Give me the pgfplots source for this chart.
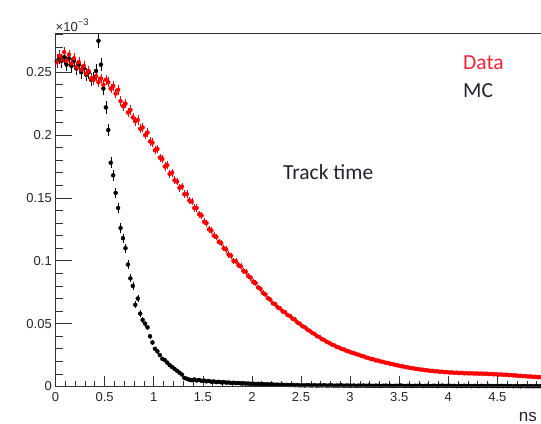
\documentclass[border=0pt]{standalone}
\usepackage{fontspec}
\setmainfont{Carlito}
\newfontfamily\helv{Liberation Sans}
\usepackage{pgfplots}
\pgfplotsset{compat=1.18}
\definecolor{datared}{RGB}{245,35,50}
\definecolor{txtdark}{RGB}{35,35,45}
\begin{document}
\begin{tikzpicture}
\begin{axis}[
  scale only axis, width=485.5bp, height=353.5bp,
  xmin=0, xmax=4.944, ymin=0, ymax=0.2812,
  axis line style={draw=none},
  tick align=inside, xtick pos=left,
  xtick={0,0.5,1,1.5,2,2.5,3,3.5,4,4.5},
  minor xtick={0,0.1,...,4.95},
  ytick=\empty,
  major tick length=10bp, minor tick length=5bp,
  tick style={black!80, line width=0.6pt},
  /pgf/number format/assume math mode=true,
  xticklabel style={font=\helv\fontsize{13bp}{15bp}\selectfont, text=black!85, anchor=north, inner sep=0pt, yshift=-6bp},
  clip=true,
]
% MC (black)
\addplot[black, only marks, mark=none,
  error bars/.cd, x dir=both, x fixed=0.0125, y dir=both, y explicit,
  error bar style={draw=black, line width=0.4pt}, error mark=none]
table[x=x, y=y, y error=e] {
x y e
0.0125 0.259 0.0054
0.0375 0.262 0.0054
0.0625 0.259 0.0054
0.0875 0.262 0.0054
0.1125 0.256 0.0053
0.1375 0.261 0.0054
0.1625 0.255 0.0053
0.1875 0.259 0.0053
0.2125 0.253 0.0053
0.2375 0.256 0.0053
0.2625 0.250 0.0053
0.2875 0.253 0.0053
0.3125 0.248 0.0052
0.3375 0.250 0.0053
0.3625 0.244 0.0052
0.3875 0.245 0.0052
0.4125 0.251 0.0053
0.4375 0.275 0.0055
0.4625 0.256 0.0053
0.4875 0.237 0.0051
0.5125 0.222 0.0049
0.5375 0.204 0.0047
0.5625 0.178 0.0044
0.5875 0.168 0.0043
0.6125 0.154 0.0041
0.6375 0.142 0.0040
0.6625 0.126 0.0037
0.6875 0.118 0.0036
0.7125 0.110 0.0035
0.7375 0.097 0.0033
0.7625 0.086 0.0031
0.7875 0.080 0.0030
0.8125 0.065 0.0027
0.8375 0.070 0.0028
0.8625 0.058 0.0025
0.8875 0.053 0.0024
0.9125 0.050 0.0023
0.9375 0.047 0.0023
0.9625 0.040 0.0021
0.9875 0.035 0.0020
1.0125 0.030 0.0018
1.0375 0.028 0.0018
1.0625 0.025 0.0017
1.0875 0.022 0.0016
1.1125 0.021 0.0015
1.1375 0.019 0.0014
1.1625 0.017 0.0014
1.1875 0.0155 0.0013
1.2125 0.014 0.0012
1.2375 0.0125 0.0012
1.2625 0.011 0.0011
1.2875 0.0095 0.0010
1.3125 0.0068 0.0009
1.3375 0.0062 0.0008
1.3625 0.0054 0.0008
1.3875 0.0050 0.0007
1.4125 0.0056 0.0008
1.4375 0.0048 0.0007
1.4625 0.0052 0.0007
1.4875 0.0045 0.0007
1.5125 0.0047 0.0007
1.5375 0.0041 0.0007
1.5625 0.0044 0.0007
1.5875 0.0038 0.0006
1.6125 0.0040 0.0007
1.6375 0.0035 0.0006
1.6625 0.0037 0.0006
1.6875 0.0033 0.0006
1.7125 0.0035 0.0006
1.7375 0.0031 0.0006
1.7625 0.0032 0.0006
1.7875 0.0028 0.0006
1.8125 0.0030 0.0006
1.8375 0.0027 0.0005
1.8625 0.0028 0.0006
1.8875 0.0025 0.0005
1.9125 0.0026 0.0005
1.9375 0.0023 0.0005
1.9625 0.0024 0.0005
1.9875 0.0021 0.0005
2.0125 0.0022 0.0005
2.0375 0.0020 0.0005
2.0625 0.0021 0.0005
2.0875 0.0018 0.0004
2.1125 0.0019 0.0005
2.1375 0.0017 0.0004
2.1625 0.0018 0.0004
2.1875 0.0016 0.0004
2.2125 0.0016 0.0004
2.2375 0.0014 0.0004
2.2625 0.0015 0.0004
2.2875 0.0013 0.0004
2.3125 0.0014 0.0004
2.3375 0.0012 0.0004
2.3625 0.0013 0.0004
2.3875 0.0011 0.0003
2.4125 0.0012 0.0004
2.4375 0.0010 0.0003
2.4625 0.0011 0.0003
2.4875 0.0009 0.0003
2.5125 0.0010 0.0003
2.5375 0.0008 0.0003
2.5625 0.0011 0.0003
2.5875 0.0009 0.0003
2.6125 0.0008 0.0003
2.6375 0.0010 0.0003
2.6625 0.0007 0.0003
2.6875 0.0009 0.0003
2.7125 0.0008 0.0003
2.7375 0.0010 0.0003
2.7625 0.0007 0.0003
2.7875 0.0008 0.0003
2.8125 0.0009 0.0003
2.8375 0.0006 0.0003
2.8625 0.0008 0.0003
2.8875 0.0007 0.0003
2.9125 0.0009 0.0003
2.9375 0.0006 0.0003
2.9625 0.0008 0.0003
2.9875 0.0007 0.0003
3.0125 0.0006 0.0003
3.0375 0.0008 0.0003
3.0625 0.0005 0.0002
3.0875 0.0007 0.0003
3.1125 0.0006 0.0003
3.1375 0.0008 0.0003
3.1625 0.0005 0.0002
3.1875 0.0007 0.0003
3.2125 0.0006 0.0003
3.2375 0.0005 0.0002
3.2625 0.0007 0.0003
3.2875 0.0006 0.0003
3.3125 0.0004 0.0002
3.3375 0.0006 0.0003
3.3625 0.0007 0.0003
3.3875 0.0005 0.0002
3.4125 0.0006 0.0003
3.4375 0.0004 0.0002
3.4625 0.0006 0.0003
3.4875 0.0005 0.0002
3.5125 0.0008 0.0003
3.5375 0.0005 0.0002
3.5625 0.0004 0.0002
3.5875 0.0006 0.0003
3.6125 0.0005 0.0002
3.6375 0.0004 0.0002
3.6625 0.0006 0.0003
3.6875 0.0005 0.0002
3.7125 0.0007 0.0003
3.7375 0.0004 0.0002
3.7625 0.0005 0.0002
3.7875 0.0006 0.0003
3.8125 0.0004 0.0002
3.8375 0.0005 0.0002
3.8625 0.0006 0.0003
3.8875 0.0004 0.0002
3.9125 0.0005 0.0002
3.9375 0.0007 0.0003
3.9625 0.0004 0.0002
3.9875 0.0005 0.0002
4.0125 0.0006 0.0003
4.0375 0.0004 0.0002
4.0625 0.0005 0.0002
4.0875 0.0003 0.0002
4.1125 0.0005 0.0002
4.1375 0.0004 0.0002
4.1625 0.0006 0.0003
4.1875 0.0004 0.0002
4.2125 0.0005 0.0002
4.2375 0.0003 0.0002
4.2625 0.0005 0.0002
4.2875 0.0004 0.0002
4.3125 0.0003 0.0002
4.3375 0.0005 0.0002
4.3625 0.0004 0.0002
4.3875 0.0003 0.0002
4.4125 0.0005 0.0002
4.4375 0.0004 0.0002
4.4625 0.0003 0.0002
4.4875 0.0004 0.0002
4.5125 0.0003 0.0002
4.5375 0.0005 0.0002
4.5625 0.0003 0.0002
4.5875 0.0004 0.0002
4.6125 0.0003 0.0002
4.6375 0.0004 0.0002
4.6625 0.0002 0.0001
4.6875 0.0004 0.0002
4.7125 0.0003 0.0002
4.7375 0.0002 0.0001
4.7625 0.0004 0.0002
4.7875 0.0003 0.0002
4.8125 0.0002 0.0001
4.8375 0.0003 0.0002
4.8625 0.0002 0.0001
4.8875 0.0003 0.0002
4.9125 0.0002 0.0001
4.9375 0.0003 0.0002
};
% Data (red)
\addplot[red, only marks, mark=none,
  error bars/.cd, x dir=both, x fixed=0.0125, y dir=both, y explicit,
  error bar style={draw=red, line width=0.4pt}, error mark=none]
table[x=x, y=y, y error=e] {
x y e
0.0125 0.258 0.0040
0.0375 0.263 0.0040
0.0625 0.260 0.0040
0.0875 0.266 0.0040
0.1125 0.259 0.0040
0.1375 0.264 0.0040
0.1625 0.257 0.0040
0.1875 0.261 0.0040
0.2125 0.254 0.0040
0.2375 0.258 0.0040
0.2625 0.252 0.0040
0.2875 0.255 0.0040
0.3125 0.249 0.0039
0.3375 0.251 0.0040
0.3625 0.245 0.0039
0.3875 0.244 0.0039
0.4125 0.247 0.0039
0.4375 0.242 0.0039
0.4625 0.245 0.0039
0.4875 0.240 0.0039
0.5125 0.244 0.0039
0.5375 0.242 0.0039
0.5625 0.237 0.0038
0.5875 0.239 0.0038
0.6125 0.233 0.0038
0.6375 0.236 0.0038
0.6625 0.227 0.0037
0.6875 0.223 0.0037
0.7125 0.225 0.0037
0.7375 0.218 0.0036
0.7625 0.220 0.0037
0.7875 0.214 0.0036
0.8125 0.211 0.0036
0.8375 0.212 0.0036
0.8625 0.205 0.0035
0.8875 0.206 0.0035
0.9125 0.200 0.0035
0.9375 0.202 0.0035
0.9625 0.195 0.0034
0.9875 0.194 0.0034
1.0125 0.188 0.0033
1.0375 0.189 0.0033
1.0625 0.182 0.0033
1.0875 0.181 0.0033
1.1125 0.175 0.0032
1.1375 0.176 0.0032
1.1625 0.169 0.0031
1.1875 0.170 0.0032
1.2125 0.164 0.0031
1.2375 0.163 0.0031
1.2625 0.158 0.0030
1.2875 0.159 0.0030
1.3125 0.153 0.0030
1.3375 0.153 0.0030
1.3625 0.148 0.0029
1.3875 0.147 0.0029
1.4125 0.142 0.0029
1.4375 0.142 0.0029
1.4625 0.137 0.0028
1.4875 0.136 0.0028
1.5125 0.131 0.0028
1.5375 0.130 0.0028
1.5625 0.125 0.0027
1.5875 0.124 0.0027
1.6125 0.120 0.0027
1.6375 0.119 0.0026
1.6625 0.115 0.0026
1.6875 0.114 0.0026
1.7125 0.110 0.0026
1.7375 0.109 0.0025
1.7625 0.105 0.0025
1.7875 0.104 0.0025
1.8125 0.100 0.0025
1.8375 0.0995 0.0024
1.8625 0.0965 0.0024
1.8875 0.0955 0.0024
1.9125 0.0920 0.0024
1.9375 0.0912 0.0024
1.9625 0.0878 0.0023
1.9875 0.0866 0.0023
2.0125 0.0832 0.0023
2.0375 0.0822 0.0023
2.0625 0.0788 0.0022
2.0875 0.0776 0.0022
2.1125 0.0744 0.0021
2.1375 0.0732 0.0021
2.1625 0.0702 0.0021
2.1875 0.0690 0.0020
2.2125 0.0662 0.0020
2.2375 0.0655 0.0020
2.2625 0.0630 0.0020
2.2875 0.0621 0.0019
2.3125 0.0599 0.0019
2.3375 0.0591 0.0019
2.3625 0.0569 0.0019
2.3875 0.0561 0.0018
2.4125 0.0540 0.0018
2.4375 0.0531 0.0018
2.4625 0.0510 0.0018
2.4875 0.0500 0.0017
2.5125 0.0480 0.0017
2.5375 0.0472 0.0017
2.5625 0.0453 0.0017
2.5875 0.0444 0.0016
2.6125 0.0427 0.0016
2.6375 0.0418 0.0016
2.6625 0.0401 0.0016
2.6875 0.0393 0.0015
2.7125 0.0377 0.0015
2.7375 0.0369 0.0015
2.7625 0.0355 0.0015
2.7875 0.0347 0.0015
2.8125 0.0334 0.0014
2.8375 0.0328 0.0014
2.8625 0.0316 0.0014
2.8875 0.0310 0.0014
2.9125 0.0299 0.0013
2.9375 0.0295 0.0013
2.9625 0.0284 0.0013
2.9875 0.0279 0.0013
3.0125 0.0270 0.0013
3.0375 0.0266 0.0013
3.0625 0.0257 0.0013
3.0875 0.0253 0.0012
3.1125 0.0244 0.0012
3.1375 0.0240 0.0012
3.1625 0.0231 0.0012
3.1875 0.0227 0.0012
3.2125 0.0219 0.0012
3.2375 0.0216 0.0011
3.2625 0.0208 0.0011
3.2875 0.0206 0.0011
3.3125 0.0199 0.0011
3.3375 0.0196 0.0011
3.3625 0.0189 0.0011
3.3875 0.0187 0.0011
3.4125 0.0180 0.0010
3.4375 0.0177 0.0010
3.4625 0.0171 0.0010
3.4875 0.0168 0.0010
3.5125 0.0162 0.0010
3.5375 0.0160 0.0010
3.5625 0.0154 0.0010
3.5875 0.0152 0.0010
3.6125 0.0147 0.0009
3.6375 0.0146 0.0009
3.6625 0.0141 0.0009
3.6875 0.0139 0.0009
3.7125 0.0135 0.0009
3.7375 0.0134 0.0009
3.7625 0.0130 0.0009
3.7875 0.0129 0.0009
3.8125 0.0125 0.0009
3.8375 0.0125 0.0009
3.8625 0.0121 0.0009
3.8875 0.0121 0.0009
3.9125 0.0117 0.0008
3.9375 0.0118 0.0008
3.9625 0.0114 0.0008
3.9875 0.0115 0.0008
4.0125 0.0111 0.0008
4.0375 0.0112 0.0008
4.0625 0.0109 0.0008
4.0875 0.0110 0.0008
4.1125 0.0107 0.0008
4.1375 0.0108 0.0008
4.1625 0.0105 0.0008
4.1875 0.0106 0.0008
4.2125 0.0104 0.0008
4.2375 0.0105 0.0008
4.2625 0.0103 0.0008
4.2875 0.0104 0.0008
4.3125 0.0102 0.0008
4.3375 0.0103 0.0008
4.3625 0.0101 0.0008
4.3875 0.0102 0.0008
4.4125 0.0099 0.0008
4.4375 0.0100 0.0008
4.4625 0.0097 0.0008
4.4875 0.0098 0.0008
4.5125 0.0095 0.0008
4.5375 0.0096 0.0008
4.5625 0.0093 0.0008
4.5875 0.0094 0.0008
4.6125 0.0091 0.0007
4.6375 0.0091 0.0007
4.6625 0.0088 0.0007
4.6875 0.0088 0.0007
4.7125 0.0085 0.0007
4.7375 0.0085 0.0007
4.7625 0.0082 0.0007
4.7875 0.0082 0.0007
4.8125 0.0079 0.0007
4.8375 0.0080 0.0007
4.8625 0.0077 0.0007
4.8875 0.0077 0.0007
4.9125 0.0074 0.0007
4.9375 0.0075 0.0007
};
\coordinate (LL) at (rel axis cs:0,0);
\coordinate (UR) at (rel axis cs:1,1);
\coordinate (UL) at (rel axis cs:0,1);
\coordinate (LR) at (rel axis cs:1,0);
\end{axis}
% second axis: y ticks only (longer ticks as in ROOT)
\begin{axis}[
  scale only axis, width=485.5bp, height=353.5bp,
  xmin=0, xmax=4.944, ymin=0, ymax=0.2812,
  axis line style={draw=none},
  tick align=inside, ytick pos=left,
  xtick=\empty,
  ytick={0,0.05,0.1,0.15,0.2,0.25},
  minor ytick={0,0.01,...,0.285},
  major tick length=16.5bp, minor tick length=8bp,
  tick style={black!80, line width=0.6pt},
  scaled y ticks=false,
  /pgf/number format/assume math mode=true,
  yticklabel style={font=\helv\fontsize{13bp}{15bp}\selectfont, text=black!85, anchor=east, inner sep=0pt, xshift=-3.5bp,
    /pgf/number format/fixed, /pgf/number format/precision=2},
]
\end{axis}
% frame (left, bottom, top)
\draw[black!80, line width=0.75pt] (LR) -- (LL) -- (UL) -- (UR);
% texts
\node[anchor=base west, inner sep=0pt, font=\helv\fontsize{13bp}{15bp}\selectfont, text=black!85] at ([shift={(0bp,1.3bp)}]UL) {×10\raisebox{6.5bp}{\fontsize{9.5bp}{10bp}\selectfont −3}};
\node[anchor=base east, inner sep=0pt, font=\helv\fontsize{17bp}{19bp}\selectfont, text=black!85] at ([shift={(-4bp,-34.5bp)}]LR) {ns};
\node[anchor=base west, inner sep=0pt, font=\fontsize{21.5bp}{24bp}\selectfont, text=datared] at ([shift={(407.5bp,317bp)}]LL) {Data};
\node[anchor=base west, inner sep=0pt, font=\fontsize{21.5bp}{24bp}\selectfont, text=txtdark] at ([shift={(407.5bp,289.2bp)}]LL) {MC};
\node[anchor=base west, inner sep=0pt, font=\fontsize{21.5bp}{24bp}\selectfont, text=txtdark] at ([shift={(227.5bp,207.2bp)}]LL) {Track time};
\pgfresetboundingbox
\path[use as bounding box] ([shift={(-55.5bp,-37.5bp)}]LL) rectangle ([shift={(0bp,33bp)}]UR);
\end{tikzpicture}
\end{document}
